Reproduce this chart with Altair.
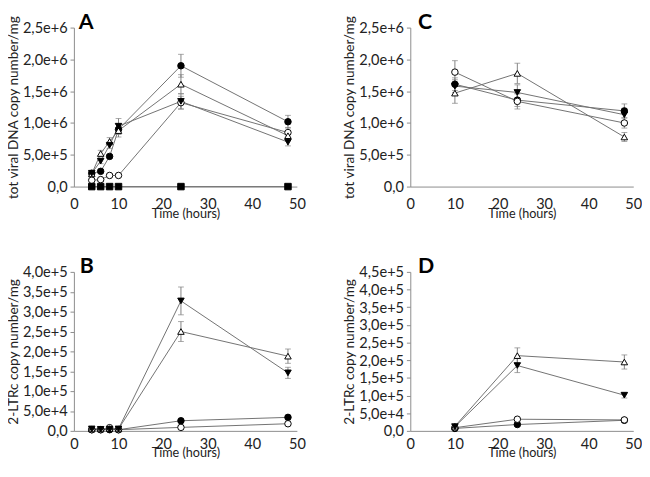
import altair as alt
import pandas as pd

# ---------------- data ----------------
series_names = ["filled circle", "open circle", "open triangle", "filled triangle", "filled square"]

tA = [4, 6, 8, 10, 24, 48]
A_fc = [2.1e5, 2.4e5, 4.75e5, 9.0e5, 1.9e6, 1.02e6]
A_oc = [1.0e5, 1.1e5, 1.75e5, 1.75e5, 1.32e6, 8.5e5]
A_ot = [2.0e5, 5.2e5, 7.1e5, 8.8e5, 1.61e6, 8.0e5]
A_ft = [2.1e5, 4.0e5, 6.5e5, 9.5e5, 1.34e6, 7.0e5]
A_fs = [0, 0, 0, 0, 0, 0]
A_fc_err = [1e4, 2e4, 3e4, 8e4, 1.8e5, 1.0e5]
A_oc_err = [1e4, 1e4, 1e4, 1e4, 1.0e5, 8e4]
A_ot_err = [2e4, 5e4, 6e4, 1.0e5, 1.5e5, 8e4]
A_ft_err = [2e4, 4e4, 5e4, 1.2e5, 1.2e5, 6e4]
A_fs_err = [0, 0, 0, 0, 0, 0]

tC = [10, 24, 48]
C_fc = [1.61e6, 1.36e6, 1.19e6]
C_oc = [1.80e6, 1.34e6, 1.0e6]
C_ot = [1.47e6, 1.78e6, 0.78e6]
C_ft = [1.58e6, 1.48e6, 1.13e6]
C_fc_err = [1.0e5, 1.0e5, 1.1e5]
C_oc_err = [1.8e5, 1.2e5, 8e4]
C_ot_err = [1.6e5, 1.6e5, 7e4]
C_ft_err = [1.0e5, 1.2e5, 1.0e5]

tB = [4, 6, 8, 10, 24, 48]
B_fc = [3e3, 3e3, 3e3, 3e3, 2.55e4, 3.4e4]
B_oc = [3e3, 3e3, 8e3, 3e3, 8.8e3, 1.8e4]
B_ot = [5e3, 5e3, 6e3, 5e3, 2.5e5, 1.88e5]
B_ft = [5e3, 4e3, 4e3, 5e3, 3.27e5, 1.46e5]
B_fc_err = [0, 0, 0, 0, 3e3, 4e3]
B_oc_err = [0, 0, 0, 0, 2e3, 3e3]
B_ot_err = [0, 0, 0, 0, 2.5e4, 1.8e4]
B_ft_err = [0, 0, 0, 0, 3.5e4, 1.4e4]

tD = [10, 24, 48]
D_fc = [7e3, 1.8e4, 3.0e4]
D_oc = [9e3, 3.3e4, 3.1e4]
D_ot = [1.3e4, 2.13e5, 1.95e5]
D_ft = [1.2e4, 1.85e5, 1.01e5]
D_fc_err = [2e3, 3e3, 3e3]
D_oc_err = [2e3, 3e3, 3e3]
D_ot_err = [5e3, 2.2e4, 2.0e4]
D_ft_err = [5e3, 2.0e4, 8e3]

styles = {
    "filled circle": ("circle", "black"),
    "open circle": ("circle", "white"),
    "open triangle": ("triangle-up", "white"),
    "filled triangle": ("triangle-down", "black"),
    "filled square": ("square", "black"),
}

FONT = "Lato"


def make_df(times, vals, errs):
    rows = []
    for name, v, e in zip(series_names, vals, errs):
        shape, fill = styles[name]
        for t, y, er in zip(times, v, e):
            rows.append(dict(series=name, t=t, y=y, lo=y - er, hi=y + er,
                             shape=shape, fill=fill))
    return pd.DataFrame(rows)


label_expr = "datum.value == 0 ? '0,0' : replace(format(datum.value, '.1e'), '.', ',')"


def panel(df, ymax, ystep, ytitle, letter, letter_dx, xlab_pad, xtitle_pad):
    base = alt.Chart(df)
    xscale = alt.Scale(domain=[0, 50], nice=False)
    xaxis = alt.Axis(values=[0, 10, 20, 30, 40, 50], title="Time (hours)",
                     ticks=False, labelPadding=xlab_pad, titlePadding=xtitle_pad,
                     grid=False, labelFlush=False, titleFontSize=13)
    yvals = [i * ystep for i in range(int(round(ymax / ystep)) + 1)]
    yscale = alt.Scale(domain=[0, ymax], nice=False)
    yaxis = alt.Axis(values=yvals, title=ytitle, labelExpr=label_expr,
                     tickSize=4, grid=False, titlePadding=2, labelOverlap=False,
                     labelPadding=3, labelFlush=False, titleFontSize=14)
    x = alt.X("t:Q", scale=xscale, axis=xaxis, title="Time (hours)")
    y = alt.Y("y:Q", scale=yscale, axis=yaxis, title=ytitle)
    lines = base.mark_line(color="#707070", strokeWidth=1).encode(
        x=x, y=y, detail="series:N")
    err = base.mark_errorbar(ticks=alt.MarkConfig(size=6), color="#808080", thickness=1).encode(
        x=x, y=alt.Y("lo:Q", scale=yscale, axis=yaxis, title=ytitle), y2="hi:Q")
    pts = base.mark_point(size=45, opacity=1, strokeWidth=1).encode(
        x=x, y=y,
        shape=alt.Shape("shape:N", scale=None),
        fill=alt.Fill("fill:N", scale=None),
        stroke=alt.value("black"))
    txt = alt.Chart(pd.DataFrame({"l": [letter]})).mark_text(
        font=FONT, fontSize=22, fontWeight="bold", align="left",
        baseline="alphabetic", color="black").encode(
        text="l:N", x=alt.value(letter_dx), y=alt.value(1))
    return alt.layer(lines, err, pts, txt).properties(width=230, height=164)


dfA = make_df(tA, [A_fc, A_oc, A_ot, A_ft, A_fs], [A_fc_err, A_oc_err, A_ot_err, A_ft_err, A_fs_err])
dfC = make_df(tC, [C_fc, C_oc, C_ot, C_ft], [C_fc_err, C_oc_err, C_ot_err, C_ft_err])
dfB = make_df(tB, [B_fc, B_oc, B_ot, B_ft], [B_fc_err, B_oc_err, B_ot_err, B_ft_err])
dfD = make_df(tD, [D_fc, D_oc, D_ot, D_ft], [D_fc_err, D_oc_err, D_ot_err, D_ft_err])

pA = panel(dfA, 2.5e6, 5e5, "tot viral DNA copy number/mg", "A", 5, 11, -4)
pC = panel(dfC, 2.5e6, 5e5, "tot viral DNA copy number/mg", "C", 8, 11, -4)
pB = panel(dfB, 4.0e5, 5e4, "2-LTRc copy number/mg", "B", 6, 6, -5)
pD = panel(dfD, 4.5e5, 5e4, "2-LTRc copy number/mg", "D", 8, 6, -5)

chart = alt.vconcat(
    alt.hconcat(pA, pC, spacing=38),
    alt.hconcat(pB, pD, spacing=38),
    spacing=36,
).properties(
    padding={"left": -2, "top": -4, "right": 0, "bottom": 0}
).configure_view(stroke=None).configure_axis(
    domainColor="#8a8a8a", tickColor="#8a8a8a",
    labelFont=FONT, titleFont=FONT, labelFontSize=15,
    labelColor="#222222", titleColor="#222222", titleFontWeight="normal",
)

chart.save("out.html", embed_options={"renderer": "svg", "actions": False})
